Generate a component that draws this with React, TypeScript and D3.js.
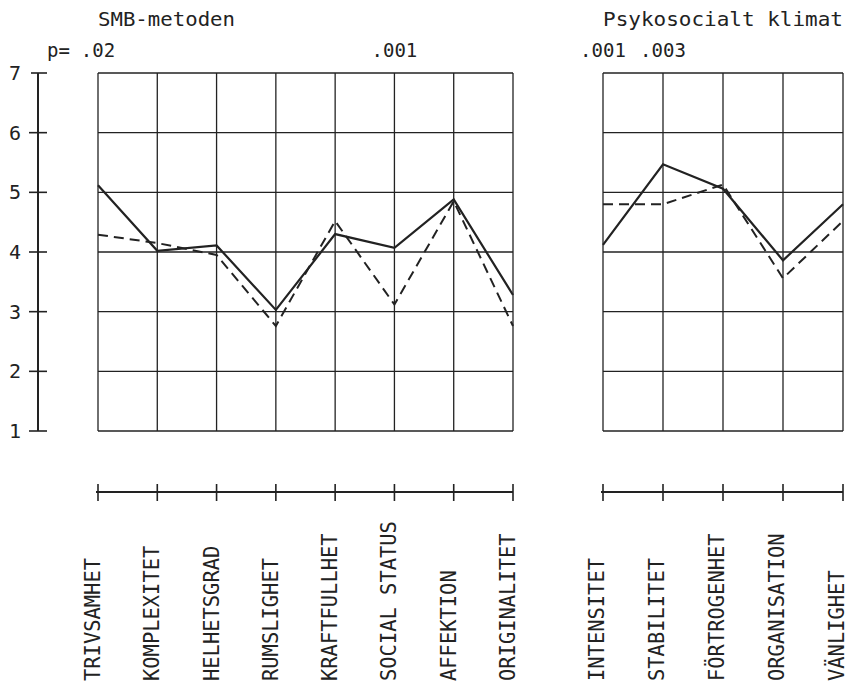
import React from "react";
import * as d3 from "d3";

const leftCategories = ["TRIVSAMHET", "KOMPLEXITET", "HELHETSGRAD", "RUMSLIGHET", "KRAFTFULLHET", "SOCIAL STATUS", "AFFEKTION", "ORIGINALITET"];
const leftSolid = [5.12, 4.02, 4.11, 3.03, 4.3, 4.07, 4.88, 3.28];
const leftDashed = [4.29, 4.15, 3.95, 2.76, 4.52, 3.12, 4.85, 2.76];
const leftP = [".02", "", "", "", "", ".001", "", ""];

const rightCategories = ["INTENSITET", "STABILITET", "FÖRTROGENHET", "ORGANISATION", "VÄNLIGHET"];
const rightSolid = [4.12, 5.47, 5.06, 3.86, 4.8];
const rightDashed = [4.8, 4.8, 5.13, 3.56, 4.52];
const rightP = [".001", ".003", "", "", ""];

const yTicks = [1, 2, 3, 4, 5, 6, 7];
const leftTitle = "SMB-metoden";
const rightTitle = "Psykosocialt klimat";

const FONT = "'DejaVu Sans Mono', 'Liberation Mono', monospace";
const INK = "#222";

export default function App() {
  const y = d3.scaleLinear().domain([1, 7]).range([431, 73]);
  const xL = d3.scalePoint<string>().domain(leftCategories).range([98, 513]);
  const xR = d3.scalePoint<string>().domain(rightCategories).range([603, 843]);

  const panels = [
    { cats: leftCategories, x: xL, solid: leftSolid, dashed: leftDashed, p: leftP, title: leftTitle },
    { cats: rightCategories, x: xR, solid: rightSolid, dashed: rightDashed, p: rightP, title: rightTitle },
  ];

  const line = (x: d3.ScalePoint<string>, cats: string[]) =>
    d3.line<number>().x((_, i) => x(cats[i]) as number).y((v) => y(v));

  const axisY = 492;
  const labelBase = 681;

  return (
    <svg width={848} height={688} style={{ position: "absolute", left: 0, top: 0, background: "#fff" }}>
      <rect width={848} height={688} fill="#fff" />
      {/* y axis */}
      <line x1={38} x2={38} y1={y(7)} y2={y(1)} stroke={INK} strokeWidth={2} />
      {yTicks.map((t) => (
        <g key={t}>
          <line x1={t === 7 ? 31 : 29} x2={47} y1={y(t)} y2={y(t)} stroke={INK} strokeWidth={1.6} />
          <text x={21} y={y(t) + 7} textAnchor="end" fontFamily={FONT} fontSize={20} fill={INK}>
            {t}
          </text>
        </g>
      ))}
      <text x={47} y={57} fontFamily={FONT} fontSize={19} fill={INK}>p=</text>

      {panels.map((pn, pi) => {
        const [x0, x1] = pn.x.range();
        const l = line(pn.x, pn.cats);
        return (
          <g key={pi}>
            {/* grid */}
            {yTicks.map((t) => (
              <line key={"h" + t} x1={x0} x2={x1} y1={y(t)} y2={y(t)} stroke={INK} strokeWidth={1.3} />
            ))}
            {pn.cats.map((c) => (
              <line key={"v" + c} x1={pn.x(c)} x2={pn.x(c)} y1={y(7)} y2={y(1)} stroke={INK} strokeWidth={1.3} />
            ))}
            {/* data */}
            <path d={l(pn.dashed) || ""} fill="none" stroke={INK} strokeWidth={2} strokeDasharray="10,6" />
            <path d={l(pn.solid) || ""} fill="none" stroke={INK} strokeWidth={2.2} />
            {/* title */}
            <text
              x={x0}
              y={26}
              fontFamily={FONT}
              fontSize={20}
              fill={INK}
              textLength={pi === 0 ? 137 : 240}
              lengthAdjust="spacingAndGlyphs"
            >
              {pn.title}
            </text>
            {/* p-values */}
            {pn.p.map((pv, i) =>
              pv ? (
                <text key={"p" + i} x={pn.x(pn.cats[i])} y={57} textAnchor="middle" fontFamily={FONT} fontSize={19} fill={INK}>
                  {pv}
                </text>
              ) : null
            )}
            {/* bottom axis */}
            <line x1={x0 - 2} x2={x1} y1={axisY} y2={axisY} stroke={INK} strokeWidth={1.8} />
            {pn.cats.map((c) => (
              <line key={"t" + c} x1={pn.x(c)} x2={pn.x(c)} y1={axisY - 8} y2={axisY + 9} stroke={INK} strokeWidth={1.6} />
            ))}
            {/* category labels */}
            {pn.cats.map((c) => {
              const cx = (pn.x(c) as number) - (pi === 0 ? 5.5 : 7) + 7.5;
              return (
                <text
                  key={"l" + c}
                  transform={`translate(${cx},${labelBase}) rotate(-90)`}
                  fontFamily={FONT}
                  fontSize={21}
                  fill={INK}
                  textLength={c.length * 12.3}
                  lengthAdjust="spacingAndGlyphs"
                >
                  {c}
                </text>
              );
            })}
          </g>
        );
      })}
    </svg>
  );
}
